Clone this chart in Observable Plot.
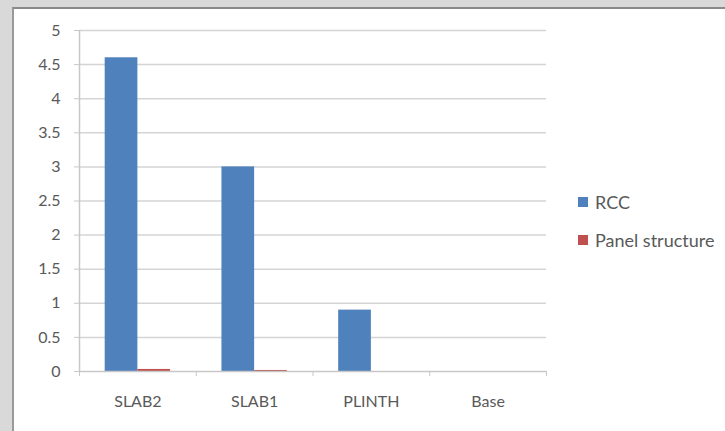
<!DOCTYPE html>
<html>
<head>
<meta charset="utf-8">
<script src="https://cdn.jsdelivr.net/npm/d3@7"></script>
<script src="https://cdn.jsdelivr.net/npm/@observablehq/plot@0.6"></script>
<style>
  html, body { margin: 0; padding: 0; }
  body { width: 725px; height: 431px; overflow: hidden; background: #d9d9d9; position: relative; font-family: Lato, "Open Sans", sans-serif; }
  #frame { position: absolute; left: 12px; top: 7px; width: 740px; height: 440px; background: #fff; border-left: 2px solid #9a9a9a; border-top: 2px solid #8a8a8a; box-sizing: border-box; }
  #chart { position: absolute; left: 0; top: 0; }
  .legend { position: absolute; left: 578px; font-size: 18px; color: #595959; display: flex; align-items: center; }
  .sw { width: 10px; height: 10px; margin-right: 7px; }
</style>
</head>
<body>
<div id="frame"></div>
<div id="chart"></div>
<div id="legend"></div>
<script>
const categories = ["SLAB2", "SLAB1", "PLINTH", "Base"];
const rccValues = [4.6, 3.0, 0.9, 0];
const panelValues = [0.03, 0.015, 0, 0];
const seriesNames = ["RCC", "Panel structure"];
const seriesColors = ["#4f81bd", "#c0504d"];
const yTicks = [0, 0.5, 1, 1.5, 2, 2.5, 3, 3.5, 4, 4.5, 5];

// bar group occupies the middle part of each category slot
const groupStart = 0.22, groupMid = 0.5, groupEnd = 0.78;

const data = categories.flatMap((c, i) => [
  {category: c, index: i, series: seriesNames[0], value: rccValues[i]},
  {category: c, index: i, series: seriesNames[1], value: panelValues[i]}
]);

const chart = Plot.plot({
  width: 725,
  height: 431,
  marginLeft: 79,
  marginRight: 179,
  marginTop: 30,
  marginBottom: 60,
  style: {background: "transparent", fontFamily: "Lato, 'Open Sans', sans-serif", fontSize: "16px", color: "#595959"},
  x: {domain: [0, categories.length], axis: null, label: null},
  y: {domain: [0, 5], axis: null, label: null},
  color: {domain: seriesNames, range: seriesColors},
  marks: [
    Plot.ruleY(yTicks.slice(1), {stroke: "#d4d4d4", strokeWidth: 1.5}),
    Plot.rectY(data, {
      x1: d => d.index + (d.series === seriesNames[0] ? groupStart : groupMid),
      x2: d => d.index + (d.series === seriesNames[0] ? groupMid : groupEnd),
      y1: 0,
      y2: "value",
      fill: "series"
    }),
    Plot.ruleY([0], {stroke: "#c8c8c8", strokeWidth: 1.5}),
    Plot.ruleX([0], {stroke: "#c8c8c8", strokeWidth: 1.5}),
    Plot.axisY({ticks: yTicks, tickSize: 5, tickPadding: 14, stroke: "#c8c8c8", fill: "#595959", fontSize: 16, label: null, tickFormat: d => String(d)}),
    Plot.axisX({ticks: d3.range(categories.length + 1), tickSize: 5, stroke: "#c8c8c8", label: null, tickFormat: () => ""}),
    Plot.axisX({ticks: categories.map((c, i) => i + 0.5), tickSize: 0, tickPadding: 24, fill: "#595959", fontSize: 16, label: null, tickFormat: d => categories[Math.floor(d)]})
  ]
});
document.getElementById("chart").appendChild(chart);

const legend = document.getElementById("legend");
seriesNames.forEach((name, i) => {
  const row = document.createElement("div");
  row.className = "legend";
  row.style.top = (191 + i * 38) + "px";
  row.innerHTML = `<div class="sw" style="background:${seriesColors[i]}"></div><span>${name}</span>`;
  legend.appendChild(row);
});
</script>
</body>
</html>
